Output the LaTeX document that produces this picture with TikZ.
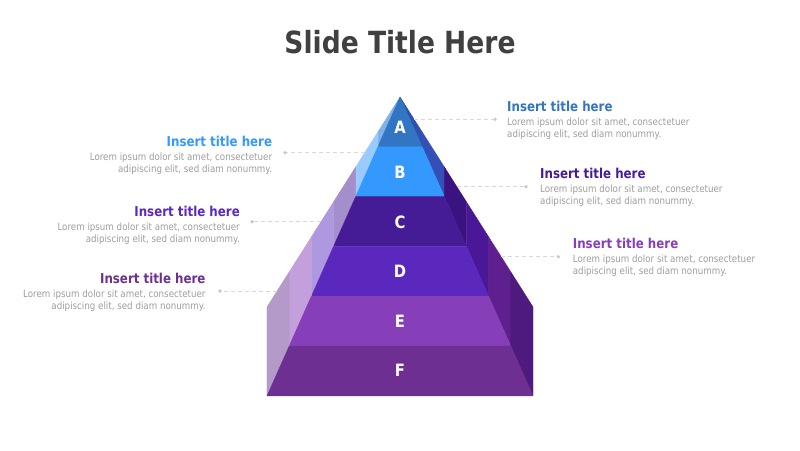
\documentclass[tikz,border=0pt]{standalone}
\usepackage{fontspec}
\setmainfont{DejaVu Sans}[FakeStretch=0.87]

\definecolor{titlegray}{HTML}{404040}
\definecolor{txtgray}{HTML}{9E9E9E}
\definecolor{frontA}{HTML}{3175C3}
\definecolor{frontB}{HTML}{3399FF}
\definecolor{frontC}{HTML}{451C95}
\definecolor{frontD}{HTML}{5B28BD}
\definecolor{frontE}{HTML}{863FB9}
\definecolor{frontF}{HTML}{6D2F92}
\definecolor{lightA}{HTML}{80B1E7}
\definecolor{lightB}{HTML}{9ACBFF}
\definecolor{lightC}{HTML}{A48ECC}
\definecolor{lightD}{HTML}{AE98DF}
\definecolor{lightE}{HTML}{C39FDB}
\definecolor{lightF}{HTML}{B49AC8}
\definecolor{darkA}{HTML}{2F51AE}
\definecolor{darkB}{HTML}{3450B8}
\definecolor{darkC}{HTML}{3A1380}
\definecolor{darkD}{HTML}{4A1897}
\definecolor{darkE}{HTML}{5E1F8F}
\definecolor{darkF}{HTML}{4E1A7D}

\begin{document}
\begin{tikzpicture}[x=1pt,y=-1pt]

                \tikzset{letter/.style = {text=white,font=\fontsize{17}{18}\selectfont\bfseries}}
                \tikzset{heading/.style = {inner sep=0,font=\fontsize{13.6}{16}\selectfont\bfseries}}
                \tikzset{blurb/.style = {inner sep=0,text=txtgray,font=\fontsize{10}{12}\selectfont}}
                \tikzset{leader/.style = {draw=black!15,line width=0.8pt,dash pattern=on 4pt off 3pt}}
                \tikzset{dot/.style = {shape=circle,fill=black!22,inner sep=0,minimum size=3.6pt}}
                \tikzset{face/.style = {fill=#1,draw=#1,line width=0.4pt,line join=round}}
                \useasboundingbox (0,0) rectangle (800,450);
                \node[text=titlegray,anchor=base,font=\fontsize{30.5}{34}\selectfont\bfseries] (title) at (400,53.3) {Slide Title Here};
                % pyramid layers
                \foreach \i/\name/\ly in {1/A/127,2/B/172.5,3/C/222,4/D/271.5,5/E/321,6/F/370.5} {
                    \pgfmathsetmacro\ya{97+49.83*(\i-1)}
                    \pgfmathsetmacro\yb{97+49.83*\i}
                    \pgfmathsetmacro\da{22.17*(\i-1)}
                    \pgfmathsetmacro\db{22.17*\i}
                    \pgfmathsetmacro\oa{97+35*(\i-1)}
                    \pgfmathsetmacro\ob{97+35*\i}
                    \path[face=light\name] (400-\da,\ya) -- (400-\da,\oa) -- (400-\db,\ob) -- (400-\db,\yb) -- cycle;
                    \path[face=dark\name] (400+\da,\ya) -- (400+\da,\oa) -- (400+\db,\ob) -- (400+\db,\yb) -- cycle;
                    \path[face=front\name] (400-\da,\ya) -- (400+\da,\ya) -- (400+\db,\yb) -- (400-\db,\yb) -- cycle;
                    \node[letter] (\name) at (400,\ly) {\name};
                }
                % right texts
                \foreach \n/\x/\yt/\yl/\xe/\xd/\c in {r1/507/111/119.3/414/495/frontA,
                        r2/540/178.3/186.7/456.8/526/frontC, r3/572.7/248.3/256.7/501/558.3/frontE} {
                    \node[heading,text=\c,anchor=base west] (\n-title) at (\x,\yt) {Insert title here};
                    \node[blurb,anchor=north west,align=left] (\n-text) at (\x,\yt+6.6) {Lorem ipsum dolor sit amet, consectetuer\\adipiscing elit, sed diam nonummy.};
                    \coordinate (\n-edge) at (\xe,\yl);
                    \node[dot] (\n-dot) at (\xd,\yl) {};
                    \draw[leader] (\n-edge) -- (\n-dot);
                }
                % left texts
                \foreach \n/\x/\yt/\yl/\xe/\xd/\c in {l1/272.3/146/152.7/364.7/285/frontB,
                        l2/240/216.7/221.7/321/252/frontD, l3/205.7/283.3/291/277.2/220/frontF} {
                    \node[heading,text=\c,anchor=base east] (\n-title) at (\x,\yt) {Insert title here};
                    \node[blurb,anchor=north east,align=right] (\n-text) at (\x,\yt+6.2) {Lorem ipsum dolor sit amet, consectetuer\\adipiscing elit, sed diam nonummy.};
                    \coordinate (\n-edge) at (\xe,\yl);
                    \node[dot] (\n-dot) at (\xd,\yl) {};
                    \draw[leader] (\n-edge) -- (\n-dot);
                }
            \end{tikzpicture}
\end{document}
